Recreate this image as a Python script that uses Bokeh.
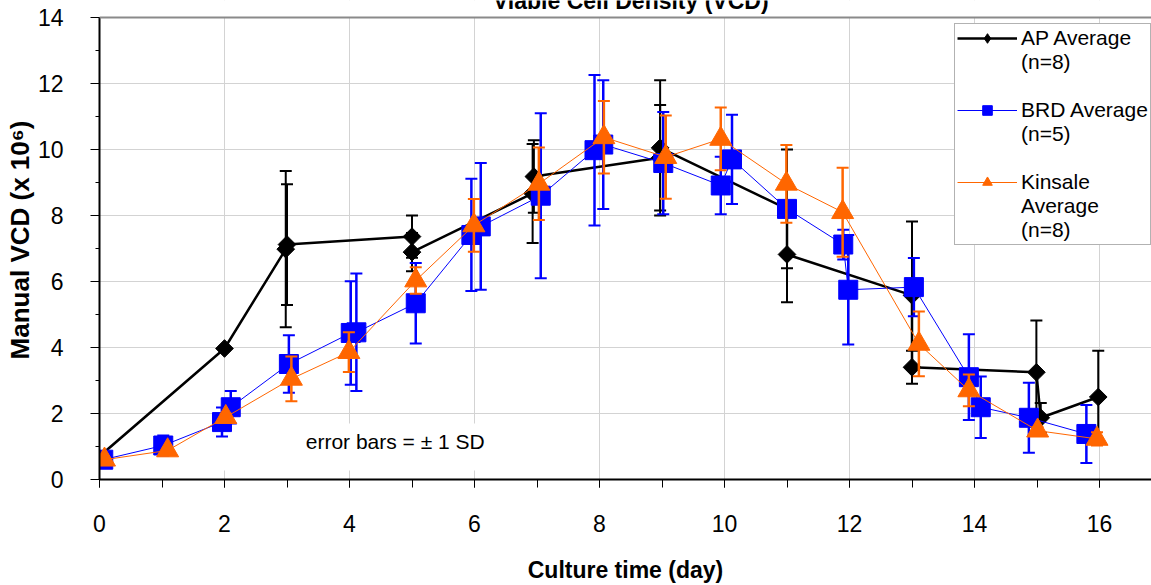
import numpy as np
from bokeh.plotting import figure
from bokeh.models import (ColumnDataSource, Range1d, SingleIntervalTicker, Span,
                          Label, BoxAnnotation, Legend, LegendItem)
from bokeh.embed import file_html
from bokeh.resources import INLINE

# ---------------- data ----------------
ap_day = [-0.05, 2.0, 2.98, 3.0, 5.0, 5.0, 6.93, 6.95, 8.97, 8.97, 11.0, 11.0, 13.0, 13.0, 14.99, 15.06, 15.98]
ap_vcd = [0.62, 3.97, 6.98, 7.12, 7.36, 6.89, 8.67, 9.18, 9.75, 10.05, 8.2, 6.82, 5.58, 3.4, 3.25, 1.87, 2.5]
ap_sd = [0.05, 0.05, 2.37, 1.83, 0.64, 0.58, 1.5, 1.1, 1.6, 2.05, 1.8, 1.45, 2.24, 0.5, 1.57, 0.45, 1.4]

brd_day = [0.06, 1.02, 1.96, 2.1, 3.03, 4.02, 4.11, 5.06, 5.95, 6.1, 7.06, 7.92, 8.06, 9.02,
           9.94, 10.12, 11.0, 11.9, 11.98, 13.03, 13.91, 14.1, 14.87, 15.79]
brd_vcd = [0.6, 1.03, 1.74, 2.19, 3.5, 4.44, 4.46, 5.34, 7.41, 7.67, 8.6, 9.98, 10.15, 9.59,
           8.91, 9.7, 8.2, 7.12, 5.75, 5.83, 3.1, 2.19, 1.87, 1.38]
brd_sd = [0.1, 0.3, 0.44, 0.49, 0.87, 1.57, 1.78, 1.22, 1.7, 1.92, 2.5, 2.28, 1.95, 1.55,
          0.87, 1.35, 0.15, 0.45, 1.66, 0.88, 1.3, 0.93, 1.06, 0.88]

kin_day = [0.08, 1.09, 2.02, 3.07, 3.99, 5.06, 5.99, 7.03, 8.07, 9.06, 9.94, 10.99, 11.89, 13.11, 13.91, 15.01, 15.96]
kin_vcd = [0.6, 0.88, 1.89, 3.05, 3.86, 6.03, 7.7, 8.96, 10.37, 9.77, 10.32, 8.96, 8.1, 4.11, 2.7, 1.48, 1.23]
kin_sd = [0.05, 0.05, 0.1, 0.68, 0.6, 0.4, 0.8, 1.1, 1.1, 1.26, 0.95, 1.18, 1.35, 0.98, 0.48, 0.1, 0.2]

legend_lines = [["AP Average", "(n=8)"], ["BRD Average", "(n=5)"], ["Kinsale", "Average", "(n=8)"]]
title_text = "Viable Cell Density (VCD)"
x_label = "Culture time (day)"
y_label = "Manual VCD (x 10\u2076)"
note_text = "error bars = \u00b1 1 SD"

FONT = "Liberation Sans"
Y_TOP = 14            # top of the value axis
Y_VIEW = 479 / 33.0   # frame reaches to the top edge so the cut title can be drawn

p = figure(width=1151, height=585, x_range=Range1d(0, 16.832), y_range=Range1d(0, Y_VIEW),
           output_backend="svg", toolbar_location=None,
           min_border_left=99, min_border_right=0, min_border_top=0, min_border_bottom=106)
p.outline_line_color = None
p.background_fill_color = "white"
p.border_fill_color = "white"

for ax in (p.xaxis, p.yaxis):
    ax.ticker = SingleIntervalTicker(interval=2, num_minor_ticks=2)
    ax.axis_line_width = 2
    ax.axis_line_color = "black"
    ax.major_tick_line_color = "black"
    ax.minor_tick_line_color = "black"
    ax.major_tick_in = 0
    ax.minor_tick_in = 0
    ax.major_label_text_font = FONT
    ax.major_label_text_font_size = "23px"
    ax.major_label_text_color = "black"
    ax.axis_label_text_font = FONT
    ax.axis_label_text_font_style = "bold"
    ax.axis_label_text_color = "black"

p.yaxis.bounds = (0, Y_TOP)

p.xaxis.major_tick_out = 8
p.xaxis.minor_tick_out = 8
p.xaxis.major_label_standoff = 27
p.xaxis.axis_label = x_label
p.xaxis.axis_label_text_font_size = "23px"
p.xaxis.axis_label_standoff = 22

p.yaxis.major_tick_out = 9
p.yaxis.minor_tick_out = 4
p.yaxis.major_label_standoff = 27
p.yaxis.axis_label = y_label
p.yaxis.axis_label_text_font_size = "26px"
p.yaxis.axis_label_standoff = 0

for g in (p.xgrid, p.ygrid):
    g.ticker = SingleIntervalTicker(interval=2)
    g.grid_line_color = "#d3d3d3"
    g.grid_line_width = 1

# white area above the plot area (hides grid lines there)
p.add_layout(BoxAnnotation(bottom=Y_TOP, top=Y_VIEW, fill_color="white", fill_alpha=1.0,
                           line_color=None, level="underlay"))
# white box behind the note (hides the grid there)
p.add_layout(BoxAnnotation(left=1.86, right=6.34, bottom=0.27, top=1.70,
                           fill_color="white", fill_alpha=1.0, line_color=None,
                           level="underlay"))

p.add_layout(Span(location=Y_TOP, dimension="width", line_color="#8a8a8a", line_width=2))


def series(day, vcd, sd, color, lw, marker, size, angle, elw):
    d = np.array(day, dtype=float)
    v = np.array(vcd, dtype=float)
    s = np.array(sd, dtype=float)
    src = ColumnDataSource(dict(x=d, y=v, up=v + s, lo=v - s))
    p.segment(x0="x", y0="lo", x1="x", y1="up", source=src, line_color=color, line_width=elw)
    p.scatter("x", "up", marker="dash", size=12, line_color=color, line_width=2, source=src)
    p.scatter("x", "lo", marker="dash", size=12, line_color=color, line_width=2, source=src)
    lr = p.line("x", "y", source=src, line_color=color, line_width=lw)
    mr = p.scatter("x", "y", marker=marker, size=size, angle=angle, fill_color=color,
                   line_color=color, source=src)
    return lr, mr


l1, m1 = series(ap_day, ap_vcd, ap_sd, "black", 2.5, "square", 12.5, np.pi / 4, 2)
l2, m2 = series(brd_day, brd_vcd, brd_sd, "#0000ff", 1, "square", 19, 0, 2.5)
l3, m3 = series(kin_day, kin_vcd, kin_sd, "#ff6600", 1, "triangle", 22, 0, 2.5)

# legend helpers: a diamond sample for AP (no visible point), an invisible sample for
# continuation lines of the multi-line labels
ap_key = p.scatter(x=[np.nan], y=[np.nan], marker="diamond", fill_color="black",
                   line_color="black")
blank = p.line(x=[np.nan, np.nan], y=[np.nan, np.nan], line_alpha=0)

items = []
for k, (lines, rends) in enumerate(zip(legend_lines, [[l1, ap_key], [l2, m2], [l3, m3]])):
    if k > 0:
        items.append(LegendItem(label=" ", renderers=[blank]))
    items.append(LegendItem(label=lines[0], renderers=rends))
    for extra in lines[1:]:
        items.append(LegendItem(label=extra, renderers=[blank]))

legend = Legend(items=items, location=(855, 234))
legend.label_text_font = FONT
legend.label_text_font_size = "21px"
legend.label_text_color = "black"
legend.label_text_line_height = 1.1
legend.glyph_width = 60
legend.glyph_height = 24
legend.label_height = 24
legend.label_standoff = 4
legend.padding = 2
legend.spacing = 0
legend.margin = 0
legend.border_line_color = "#666666"
legend.border_line_width = 1
legend.background_fill_color = "white"
legend.background_fill_alpha = 1
p.add_layout(legend)

# title: only its lower part lies inside the picture, as in the reference
p.add_layout(Label(x=8.5, y=Y_TOP, text=title_text, text_align="center",
                   text_baseline="bottom", y_offset=4, text_font=FONT,
                   text_font_style="bold", text_font_size="23px", text_color="black"))

p.add_layout(Label(x=3.3, y=1.15, text=note_text, text_baseline="middle",
                   text_font=FONT, text_font_size="21px", text_color="black"))

open("out.html", "w").write(file_html(p, INLINE))
